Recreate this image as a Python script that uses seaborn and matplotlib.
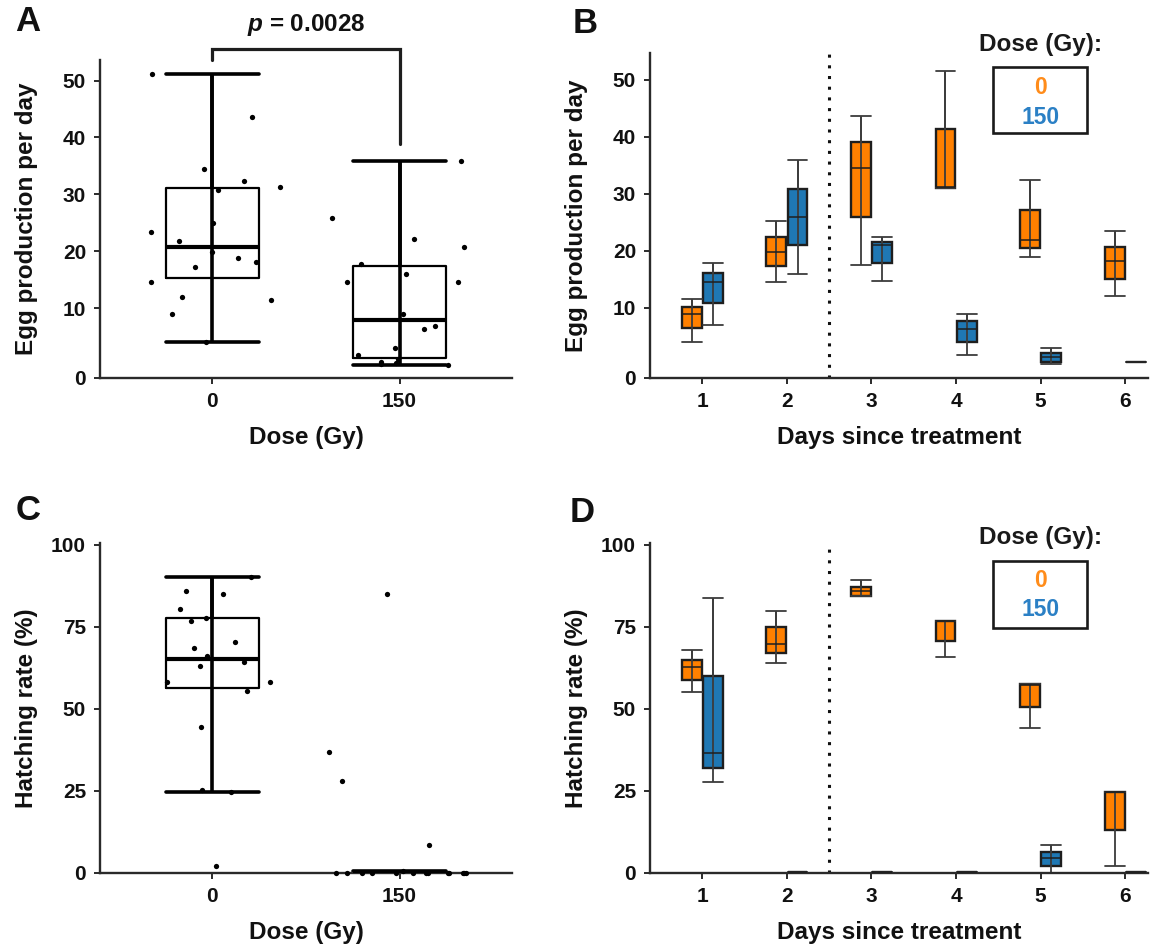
import matplotlib
matplotlib.use("Agg")
import matplotlib.pyplot as plt
import seaborn as sns
import numpy as np
import pandas as pd
from matplotlib.patches import Rectangle

# Panel A: egg production per day, pooled over days (one point per female)
eggs_0gy = [51.2, 43.6, 34.4, 32.3, 31.3, 30.7, 25.0, 23.3, 21.8,
            19.8, 18.8, 18.1, 17.3, 14.6, 12.0, 11.5, 8.9, 4.0]
eggs_150gy = [35.9, 25.8, 22.2, 20.8, 17.8, 16.0, 14.6, 14.6, 8.9,
              6.8, 6.3, 2.9, 1.8, 1.1, 0.5, 0.35, 0.2, 0.0]

# Panel C: hatching rate (%)
hatch_0gy = [90.2, 85.9, 85.0, 80.5, 77.8, 76.8, 70.3, 68.6, 66.2,
             64.3, 63.1, 58.3, 58.3, 55.5, 44.5, 25.3, 24.6, 2.2]
hatch_150gy = [85.0, 36.8, 28.1, 8.6, 0.5, 0, 0, 0, 0,
               0, 0, 0, 0, 0, 0, 0, 0, 0]

# Panels B and D: one box per day, given as (min, q1, median, q3, max)
days = ["1", "2", "3", "4", "5", "6"]
egg_day_0gy = [(4.0, 6.5, 9.0, 10.2, 11.6),
               (14.6, 17.3, 19.8, 22.4, 25.2),
               (17.5, 25.9, 34.5, 39.1, 43.7),
               (31.0, 31.0, 31.2, 41.3, 51.5),
               (18.9, 20.5, 21.9, 27.1, 32.5),
               (12.1, 15.1, 18.2, 20.7, 23.5)]
egg_day_150gy = [(7.0, 10.9, 14.6, 16.1, 17.9),
                 (16.0, 21.0, 26.0, 30.9, 35.9),
                 (14.7, 17.9, 21.0, 21.5, 22.5),
                 (1.8, 4.0, 6.3, 7.7, 9.0),
                 (0.2, 0.5, 1.35, 2.0, 2.9),
                 (0.45, 0.45, 0.45, 0.45, 0.45)]
hatch_day_0gy = [(55.1, 58.9, 62.8, 65.0, 67.9),
                 (63.9, 66.9, 69.8, 74.8, 79.8),
                 (84.4, 84.4, 85.8, 87.2, 89.3),
                 (65.7, 70.7, 76.7, 76.8, 76.8),
                 (44.1, 50.7, 57.3, 57.5, 57.5),
                 (2.0, 13.2, 24.8, 24.8, 24.8)]
hatch_day_150gy = [(27.7, 32.0, 36.5, 60.0, 83.9),
                   (0.3, 0.3, 0.3, 0.3, 0.3),
                   (0.3, 0.3, 0.3, 0.3, 0.3),
                   (0.3, 0.3, 0.3, 0.3, 0.3),
                   (0.0, 2.2, 4.6, 6.3, 8.4),
                   (0.3, 0.3, 0.3, 0.3, 0.3)]

doses = ["0", "150"]
box_colors = {"0": "#FF8000", "150": "#1F78B4"}
text_colors = {"0": "#FF8C1A", "150": "#2B80C5"}
ink = "#1E1E1E"


def pooled_frame(v0, v150):
    return pd.DataFrame({"dose": ["0"] * len(v0) + ["150"] * len(v150),
                         "value": v0 + v150})


def daily_frame(s0, s150):
    rows = []
    for dose, stats in (("0", s0), ("150", s150)):
        for day, five in zip(days, stats):
            for v in five:
                rows.append((day, dose, v))
    return pd.DataFrame(rows, columns=["day", "dose", "value"])


def whiskers_through_box(ax):
    # the original draws one min-to-max line through each box, caps as wide as the box
    for cont in ax.containers:
        if not hasattr(cont, "whiskers"):
            continue
        for i, med in enumerate(cont.medians):
            lo, hi = cont.whiskers[2 * i], cont.whiskers[2 * i + 1]
            lo.set_ydata([lo.get_ydata()[1], hi.get_ydata()[1]])
            lo.set_zorder(2.5)
            hi.set_zorder(2.5)
            med.set_zorder(2.6)
            x0, x1 = med.get_xdata()[0], med.get_xdata()[-1]
            for cap in cont.caps[2 * i:2 * i + 2]:
                cap.set_xdata([x0, x1])
                cap.set_zorder(2.5)


def style_axis(ax, xlabel, ylabel, ylab_x):
    for side in ("top", "right"):
        ax.spines[side].set_visible(False)
    for side in ("left", "bottom"):
        ax.spines[side].set_color("#2A2A2A")
        ax.spines[side].set_linewidth(1.7)
    ax.tick_params(axis="both", direction="out", length=4, width=1.4,
                   color="#2A2A2A", labelcolor="#111111", labelsize=15, pad=6)
    for lab in ax.get_xticklabels() + ax.get_yticklabels():
        lab.set_fontweight("bold")
    ax.set_xlabel(xlabel, fontsize=17.5, fontweight="bold", labelpad=11, color="#111111")
    ax.set_ylabel(ylabel, fontsize=17.5, fontweight="bold", color="#111111")
    ax.yaxis.set_label_coords(ylab_x, 0.5)


def dose_key(ax, y_title, y_box, y_zero, y_150):
    ax.text(4.0, y_title, "Dose (Gy):", ha="center", va="center", fontsize=17.5,
            fontweight="bold", color="#1A1A1A", clip_on=False)
    ax.add_patch(Rectangle((3.44, y_box[0]), 1.11, y_box[1] - y_box[0], fill=False,
                           edgecolor="#1A1A1A", linewidth=1.9, clip_on=False, zorder=5))
    ax.text(4.0, y_zero, "0", ha="center", va="center", fontsize=16.5,
            fontweight="bold", color=text_colors["0"])
    ax.text(4.0, y_150, "150", ha="center", va="center", fontsize=16.5,
            fontweight="bold", color=text_colors["150"])


sns.set_theme(style="ticks")
plt.rcParams["font.family"] = ["Liberation Sans", "DejaVu Sans"]
plt.rcParams["text.color"] = "#111111"
plt.rcParams["mathtext.fontset"] = "custom"
plt.rcParams["mathtext.it"] = "Liberation Sans:italic:bold"
plt.rcParams["mathtext.rm"] = "Liberation Sans:bold"

fig = plt.figure(figsize=(11.52, 9.49), dpi=100)
axA = fig.add_axes([0.0868, 0.6017, 0.3576, 0.3350])
axB = fig.add_axes([0.5642, 0.6017, 0.4323, 0.3425])
axC = fig.add_axes([0.0868, 0.0801, 0.3576, 0.3477])
axD = fig.add_axes([0.5642, 0.0801, 0.4323, 0.3477])

np.random.seed(7)

# ---- A ----
eggs = pooled_frame(eggs_0gy, eggs_150gy)
sns.boxplot(data=eggs, x="dose", y="value", order=doses, width=0.5, whis=1.5,
            fill=False, color="black", linewidth=1.6, showfliers=False,
            medianprops=dict(linewidth=3.0), whiskerprops=dict(linewidth=2.6),
            capprops=dict(linewidth=2.6), ax=axA)
sns.stripplot(data=eggs, x="dose", y="value", order=doses, jitter=0.38, size=3.8,
              color="black", linewidth=0, ax=axA)
whiskers_through_box(axA)
axA.set_xlim(-0.6, 1.6)
axA.set_ylim(-2.3, 53.6)
axA.set_yticks([-2.3, 10, 20, 30, 40, 50], ["0", "10", "20", "30", "40", "50"])
style_axis(axA, "Dose (Gy)", "Egg production per day", -0.15)
axA.plot([0, 0, 1, 1], [53.6, 55.6, 55.6, 38.8], color="#1E1E1E", lw=2.3,
         clip_on=False, solid_joinstyle="miter")
axA.text(0.5, 59.8, r"$p$ = 0.0028", ha="center", va="center", fontsize=17.5,
         fontweight="bold", clip_on=False)

# ---- B ----
egg_days = daily_frame(egg_day_0gy, egg_day_150gy)
sns.boxplot(data=egg_days, x="day", y="value", hue="dose", hue_order=doses,
            palette=box_colors, saturation=1, width=0.5, gap=0.06, whis=(0, 100),
            linecolor=ink, linewidth=1.7, showfliers=False,
            whiskerprops=dict(color="#3C3C3C", linewidth=1.3),
            capprops=dict(color="#3C3C3C", linewidth=1.3),
            medianprops=dict(color=ink, linewidth=1.1), legend=False, ax=axB)
whiskers_through_box(axB)
axB.axvline(1.5, color="#111111", lw=2.2, linestyle=(0, (1, 2.5)))
axB.set_xlim(-0.62, 5.27)
axB.set_ylim(-2.3, 54.7)
axB.set_yticks([-2.3, 10, 20, 30, 40, 50], ["0", "10", "20", "30", "40", "50"])
style_axis(axB, "Days since treatment", "Egg production per day", -0.125)
dose_key(axB, 56.2, (40.6, 52.3), 48.7, 43.4)

# ---- C ----
hatch = pooled_frame(hatch_0gy, hatch_150gy)
sns.boxplot(data=hatch, x="dose", y="value", order=doses, width=0.5, whis=1.5,
            fill=False, color="black", linewidth=1.6, showfliers=False,
            medianprops=dict(linewidth=3.0), whiskerprops=dict(linewidth=2.6),
            capprops=dict(linewidth=2.6), ax=axC)
sns.stripplot(data=hatch, x="dose", y="value", order=doses, jitter=0.38, size=3.8,
              color="black", linewidth=0, clip_on=False, ax=axC)
whiskers_through_box(axC)
axC.set_xlim(-0.6, 1.6)
axC.set_ylim(0, 100.5)
axC.set_yticks([0, 25, 50, 75, 100])
style_axis(axC, "Dose (Gy)", "Hatching rate (%)", -0.15)

# ---- D ----
hatch_days = daily_frame(hatch_day_0gy, hatch_day_150gy)
sns.boxplot(data=hatch_days, x="day", y="value", hue="dose", hue_order=doses,
            palette=box_colors, saturation=1, width=0.5, gap=0.06, whis=(0, 100),
            linecolor=ink, linewidth=1.7, showfliers=False,
            whiskerprops=dict(color="#3C3C3C", linewidth=1.3),
            capprops=dict(color="#3C3C3C", linewidth=1.3),
            medianprops=dict(color=ink, linewidth=1.1), legend=False, ax=axD)
whiskers_through_box(axD)
axD.axvline(1.5, color="#111111", lw=2.2, linestyle=(0, (1, 2.5)))
axD.set_xlim(-0.62, 5.27)
axD.set_ylim(0, 100.5)
axD.set_yticks([0, 25, 50, 75, 100])
style_axis(axD, "Days since treatment", "Hatching rate (%)", -0.125)
dose_key(axD, 102.1, (74.5, 94.9), 89.2, 80.2)

for letter, (x, y) in {"A": (0.024, 0.977), "B": (0.508, 0.975),
                       "C": (0.024, 0.462), "D": (0.505, 0.460)}.items():
    fig.text(x, y, letter, fontsize=25, fontweight="bold", ha="center", va="center",
             color="#111111")

fig.savefig("out.png", dpi=100)
